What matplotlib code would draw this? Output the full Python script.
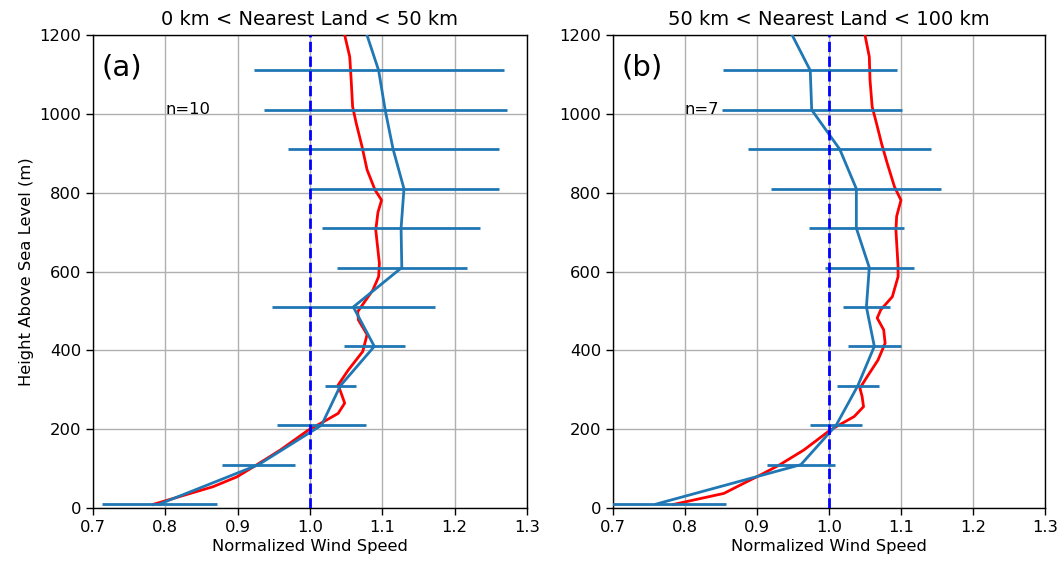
import matplotlib
matplotlib.use("Agg")
import matplotlib.pyplot as plt
import numpy as np

heights = [10, 110, 210, 310, 410, 510, 610, 710, 810, 910, 1010, 1110, 1210]

# Panel (a)
mean_a = [0.792, 0.929, 1.016, 1.042, 1.089, 1.060, 1.127, 1.126, 1.130, 1.115, 1.104, 1.095, 1.077]
err_a = [0.079, 0.051, 0.061, 0.021, 0.042, 0.113, 0.090, 0.109, 0.131, 0.146, 0.168, 0.173, 0.17]
red_h_a = [9, 54, 79, 109, 147, 198, 219, 240, 266, 287, 312, 350, 397, 440, 477, 498, 519, 553,
           587, 621, 705, 750, 781, 807, 858, 917, 976, 1018, 1086, 1145, 1200]
red_x_a = [0.783, 0.866, 0.899, 0.926, 0.959, 0.998, 1.019, 1.039, 1.048, 1.044, 1.039, 1.053,
           1.073, 1.079, 1.067, 1.066, 1.074, 1.087, 1.095, 1.096, 1.091, 1.094, 1.099, 1.090,
           1.079, 1.072, 1.064, 1.059, 1.057, 1.055, 1.048]

# Panel (b)
mean_b = [0.760, 0.961, 1.010, 1.040, 1.063, 1.052, 1.056, 1.038, 1.038, 1.015, 0.976, 0.974, 0.946]
err_b = [0.097, 0.047, 0.036, 0.029, 0.037, 0.033, 0.062, 0.066, 0.118, 0.127, 0.125, 0.121, 0.12]
red_h_b = [9, 37, 63, 84, 109, 147, 198, 232, 257, 283, 304, 333, 375, 418, 452, 482, 503, 536,
           587, 612, 705, 740, 781, 815, 874, 925, 976, 1018, 1086, 1145, 1200]
red_x_b = [0.784, 0.854, 0.882, 0.905, 0.931, 0.965, 1.002, 1.035, 1.048, 1.046, 1.043, 1.053,
           1.068, 1.078, 1.076, 1.067, 1.072, 1.088, 1.096, 1.096, 1.093, 1.094, 1.100, 1.091,
           1.081, 1.073, 1.066, 1.060, 1.057, 1.056, 1.050]

titles = ["0 km < Nearest Land < 50 km", "50 km < Nearest Land < 100 km"]
panel_labels = ["(a)", "(b)"]
n_labels = ["n=10", "n=7"]
xticks = [0.7, 0.8, 0.9, 1.0, 1.1, 1.2, 1.3]
yticks = [0, 200, 400, 600, 800, 1000, 1200]

fig = plt.figure(figsize=(10.6, 5.62), dpi=100)
ax_a = fig.add_axes([0.0877, 0.0961, 0.4094, 0.8416])
ax_b = fig.add_axes([0.5783, 0.0961, 0.4075, 0.8416])

data = [(ax_a, mean_a, err_a, red_x_a, red_h_a), (ax_b, mean_b, err_b, red_x_b, red_h_b)]
for i, (ax, m, e, rx, rh) in enumerate(data):
    ax.grid(True, color="#b0b0b0", linewidth=1.0, zorder=0)
    ax.set_axisbelow(True)
    ax.plot(rx, rh, color="red", linewidth=2.0, zorder=3, solid_joinstyle="round")
    ax.errorbar(m, heights, xerr=e, color="#1f77b4", linewidth=2.0,
                elinewidth=2.0, capsize=0, zorder=4)
    ax.axvline(1.0, color="blue", linestyle="--", linewidth=2.0, zorder=5)
    ax.set_xlim(0.7, 1.3)
    ax.set_ylim(0, 1200)
    ax.set_xticks(xticks)
    ax.set_yticks(yticks)
    ax.tick_params(labelsize=11.8, length=5, width=1)
    ax.set_title(titles[i], fontsize=14, pad=7)
    ax.set_xlabel("Normalized Wind Speed", fontsize=11.8, labelpad=3)
    ax.text(0.02, 0.96, panel_labels[i], transform=ax.transAxes, fontsize=21,
            va="top", ha="left")
    ax.text(0.8, 1010, n_labels[i], fontsize=11.8, va="center", ha="left", zorder=2)
    for s in ax.spines.values():
        s.set_linewidth(1.0)

ax_a.set_ylabel("Height Above Sea Level (m)", fontsize=11.8)

fig.savefig("out.png", dpi=100)
